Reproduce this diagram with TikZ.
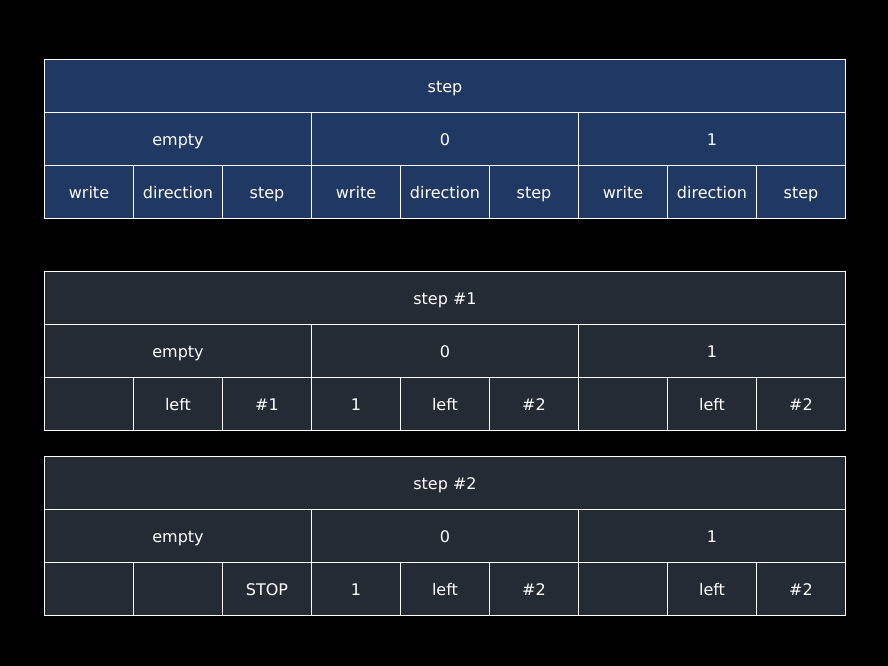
\documentclass[tikz,border=0pt]{standalone}
\usepackage{fontspec}
\setmainfont{DejaVu Sans}
\definecolor{navy}{HTML}{203864}
\definecolor{slate}{HTML}{252B35}

\begin{document}
\begin{tikzpicture}[x=1pt,y=-1pt]
  \tikzstyle{cell}=[draw=white,line width=1pt,inner sep=0pt,anchor=north west,minimum height=53pt,
                    text=white,text height=13pt,text depth=0pt,font=\fontsize{16}{19}\selectfont]
  \tikzstyle{head}=[cell,fill=navy]
  \tikzstyle{run}=[cell,fill=slate]
  \fill[black] (0,0) rectangle (888,666);
  % header table
  \node[head,minimum width=801pt] (step) at (44,59) {step};
  \foreach \lab [count=\i from 0] in {empty,0,1}
    \node[head,minimum width=267pt] (state\i) at ({44+267*\i},112) {\lab};
  \foreach \g in {0,1,2}
    \foreach \lab [count=\j from 0] in {write,direction,step}
      \node[head,minimum width=89pt] (field\g\j) at ({44+267*\g+89*\j},165) {\lab};
  % step #1 and step #2
  \foreach \n/\top/\vals in {1/271/{{},left,\#1,1,left,\#2,{},left,\#2},
                             2/456/{{},{},STOP,1,left,\#2,{},left,\#2}} {
    \node[run,minimum width=801pt] (run\n) at (44,\top) {step \#\n};
    \foreach \lab [count=\i from 0] in {empty,0,1}
      \node[run,minimum width=267pt] (run\n state\i) at ({44+267*\i},\top+53) {\lab};
    \foreach \v [count=\k from 0] in \vals
      \node[run,minimum width=89pt] (run\n val\k) at ({44+89*\k},\top+106) {\v};
  }
\end{tikzpicture}
\end{document}
